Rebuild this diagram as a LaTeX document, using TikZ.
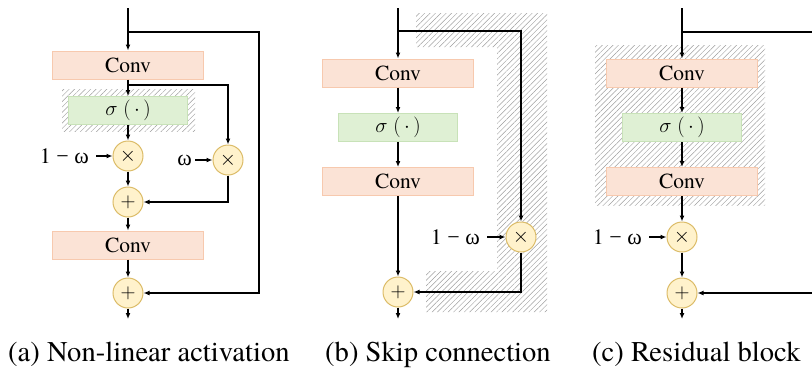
\documentclass[tikz,border=0pt]{standalone}
\usepackage{fontspec}
\IfFontExistsTF{texgyretermes-regular.otf}{\setmainfont{texgyretermes-regular.otf}}{\setmainfont{Liberation Serif}}
\newfontfamily\grk{Liberation Serif}
\usetikzlibrary{arrows.meta,patterns.meta}
\definecolor{convfill}{HTML}{FBE3D6}
\definecolor{convdraw}{HTML}{F7C9AE}
\definecolor{sigfill}{HTML}{DFF0D4}
\definecolor{sigdraw}{HTML}{C8E2B8}
\definecolor{opfill}{HTML}{FFF2CC}
\definecolor{opdraw}{HTML}{DCBC68}
\tikzset{
  convbox/.style={rectangle, fill=convfill, draw=convdraw, line width=1pt, minimum width=151pt, minimum height=28pt, inner sep=0pt, font=\fontsize{21.5}{21.5}\selectfont},
  sigbox/.style={rectangle, fill=sigfill, draw=sigdraw, line width=1pt, minimum width=119pt, minimum height=28pt, inner sep=0pt, font=\fontsize{21.5}{21.5}\selectfont},
  opnode/.style={circle, fill=opfill, draw=opdraw, line width=1pt, minimum size=30pt, inner sep=0pt, font=\fontsize{22}{22}\selectfont},
  wlabel/.style={inner sep=0pt, font=\fontsize{22}{22}\selectfont},
  flow/.style={line width=1.6pt, -{Latex[length=6pt,width=5pt]}},
  wire/.style={line width=1.6pt},
  hatch/.style={pattern={Lines[angle=45,distance=3.8pt,line width=0.45pt]}, pattern color=black!38},
  captext/.style={inner sep=0pt, font=\fontsize{28.6}{30}\selectfont},
}
\newcommand{\sigexpr}{$\sigma\;(\,\cdot\,)$}
\newcommand{\omw}{1 {\grk − ω}}
\newcommand{\opmul}{$\times$}
\newcommand{\opadd}{$+$}
\begin{document}
\begin{tikzpicture}[x=1pt,y=-1pt]
\useasboundingbox (0,0) rectangle (812,368);
% hatches
\fill[hatch] (62,89) rectangle (195,131);
\fill[hatch] (416,13) -- (547,13) -- (547,312) -- (426,312) -- (426,271) -- (497,271) -- (497,47) -- (416,47) -- cycle;
\fill[hatch] (595,45) rectangle (765,205);

% ---------- (a) ----------
\coordinate (ain) at (128,8);
\coordinate (aj1) at (128,32);
\coordinate (ar) at (259,32);
\coordinate (aj2) at (128,85);
\coordinate (aout) at (128,319);
\node[convbox] (aconv1) at (128,65) {Conv};
\node[sigbox] (asig) at (128,110.5) {\sigexpr};
\node[opnode] (amul1) at (128,156) {\opmul};
\node[opnode] (amul2) at (228,160) {\opmul};
\node[opnode] (aadd1) at (128,202) {\opadd};
\node[convbox] (aconv2) at (128,245) {Conv};
\node[opnode] (aadd2) at (128,293) {\opadd};
\node[wlabel, anchor=east] (aw1) at (89,156) {\omw};
\node[wlabel, anchor=east] (aw2) at (192,160) {\grk ω};
\draw[flow] (ain) -- (aconv1);
\draw[flow] (aj1) -- (ar) |- (aadd2);
\draw[flow] (aconv1) -- (asig);
\draw[flow] (aj2) -| (amul2);
\draw[flow] (asig) -- (amul1);
\draw[flow, shorten <=7pt] (aw1) -- (amul1);
\draw[flow, shorten <=3pt] (aw2) -- (amul2);
\draw[flow] (amul1) -- (aadd1);
\draw[flow] (amul2) |- (aadd1);
\draw[flow] (aadd1) -- (aconv2);
\draw[flow] (aconv2) -- (aadd2);
\draw[flow] (aadd2) -- (aout);

% ---------- (b) ----------
\coordinate (bin) at (398,8);
\coordinate (bj) at (398,31);
\coordinate (br) at (521,31);
\coordinate (bout) at (398,319);
\node[convbox] (bconv1) at (398,73) {Conv};
\node[sigbox] (bsig) at (398,127.5) {\sigexpr};
\node[convbox] (bconv2) at (398,181.5) {Conv};
\node[opnode] (bmul) at (521,237) {\opmul};
\node[opnode] (badd) at (398,292) {\opadd};
\node[wlabel, anchor=east] (bw) at (480,237) {\omw};
\draw[flow] (bin) -- (bconv1);
\draw[flow] (bj) -- (br) -- (bmul);
\draw[flow] (bconv1) -- (bsig);
\draw[flow] (bsig) -- (bconv2);
\draw[flow] (bconv2) -- (badd);
\draw[flow, shorten <=7pt] (bw) -- (bmul);
\draw[flow] (bmul) |- (badd);
\draw[flow] (badd) -- (bout);

% ---------- (c) ----------
\coordinate (cin) at (682,8);
\coordinate (cj) at (682,32);
\coordinate (cr1) at (812,32);
\coordinate (cr2) at (812,293);
\coordinate (cout) at (682,319);
\node[convbox] (cconv1) at (682,73) {Conv};
\node[sigbox] (csig) at (682,127.5) {\sigexpr};
\node[convbox] (cconv2) at (682,181.5) {Conv};
\node[opnode] (cmul) at (682,237) {\opmul};
\node[opnode] (cadd) at (682,293) {\opadd};
\node[wlabel, anchor=east] (cw) at (642,237) {\omw};
\draw[flow] (cin) -- (cconv1);
\draw[wire] (cj) -- (cr1);
\draw[flow] (cconv1) -- (csig);
\draw[flow] (csig) -- (cconv2);
\draw[flow] (cconv2) -- (cmul);
\draw[flow, shorten <=7pt] (cw) -- (cmul);
\draw[flow] (cmul) -- (cadd);
\draw[flow] (cr2) -- (cadd);
\draw[flow] (cadd) -- (cout);

% captions
\node[captext, anchor=base west] (capa) at (8,361) {(a) Non-linear activation};
\node[captext, anchor=base west] (capb) at (325,361) {(b) Skip connection};
\node[captext, anchor=base west] (capc) at (592,361) {(c) Residual block};
\end{tikzpicture}
\end{document}
